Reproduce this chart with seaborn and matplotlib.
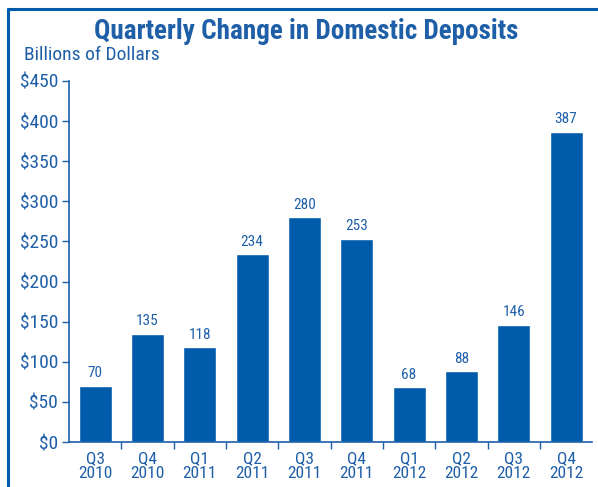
import matplotlib
matplotlib.use('Agg')
import matplotlib.pyplot as plt
from matplotlib.lines import Line2D
import seaborn as sns
import pandas as pd

quarters = ['Q3\n2010', 'Q4\n2010', 'Q1\n2011', 'Q2\n2011', 'Q3\n2011',
            'Q4\n2011', 'Q1\n2012', 'Q2\n2012', 'Q3\n2012', 'Q4\n2012']
deposits = [70, 135, 118, 234, 280, 253, 68, 88, 146, 387]
yticks = [0, 50, 100, 150, 200, 250, 300, 350, 400, 450]

bar_blue = '#005BAA'
text_blue = '#1E5FA8'

sns.set_style('white')
plt.rcParams['font.family'] = ['Roboto Condensed', 'DejaVu Sans']
plt.rcParams['font.stretch'] = 'condensed'

df = pd.DataFrame({'quarter': quarters, 'deposits': deposits})

fig = plt.figure(figsize=(5.98, 4.87), dpi=100)
ax = fig.add_axes([0.1154, 0.0924, 0.875, 0.7413])

sns.barplot(data=df, x='quarter', y='deposits', color=bar_blue,
            saturation=1, width=0.63, ax=ax)

for i, v in enumerate(deposits):
    ax.text(i, v + 7, str(v), ha='center', va='bottom',
            fontsize=11, color=text_blue)

ax.set_xlim(-0.5, len(quarters) - 0.5)
ax.set_ylim(0, 450)
ax.set_yticks(yticks)
ax.set_yticklabels(['$' + str(t) for t in yticks])
ax.set_xlabel('')
ax.set_ylabel('')

for side in ['top', 'right']:
    ax.spines[side].set_visible(False)
for side in ['left', 'bottom']:
    ax.spines[side].set_color(text_blue)
    ax.spines[side].set_linewidth(1.2)

# ticks: y ticks at values, x ticks at category boundaries
ax.tick_params(axis='y', which='major', left=True, length=5, width=1,
               color=text_blue, labelcolor=text_blue, labelsize=14, pad=3)
ax.set_xticks(range(len(quarters)))
ax.set_xticklabels(quarters)
ax.tick_params(axis='x', which='major', bottom=False, labelcolor=text_blue,
               labelsize=12.5, pad=3)
ax.set_xticks([i + 0.5 for i in range(len(quarters) - 1)], minor=True)
ax.tick_params(axis='x', which='minor', bottom=True, length=5, width=1,
               color=text_blue)
for lbl in ax.get_xticklabels():
    lbl.set_linespacing(1.0)

fig.text(0.512, 0.935, 'Quarterly Change in Domestic Deposits', ha='center',
         va='center', fontsize=19.5, fontweight='bold', color=text_blue)
fig.text(0.04, 0.887, 'Billions of Dollars', ha='left', va='center',
         fontsize=14, color=text_blue)

# frame lines at top and left
fig.add_artist(Line2D([0.0134, 1.0], [0.982, 0.982], transform=fig.transFigure,
                      color=bar_blue, linewidth=2.2))
fig.add_artist(Line2D([0.0134, 0.0134], [0.0, 0.982], transform=fig.transFigure,
                      color=bar_blue, linewidth=2.2))

fig.savefig('out.png', dpi=100)
